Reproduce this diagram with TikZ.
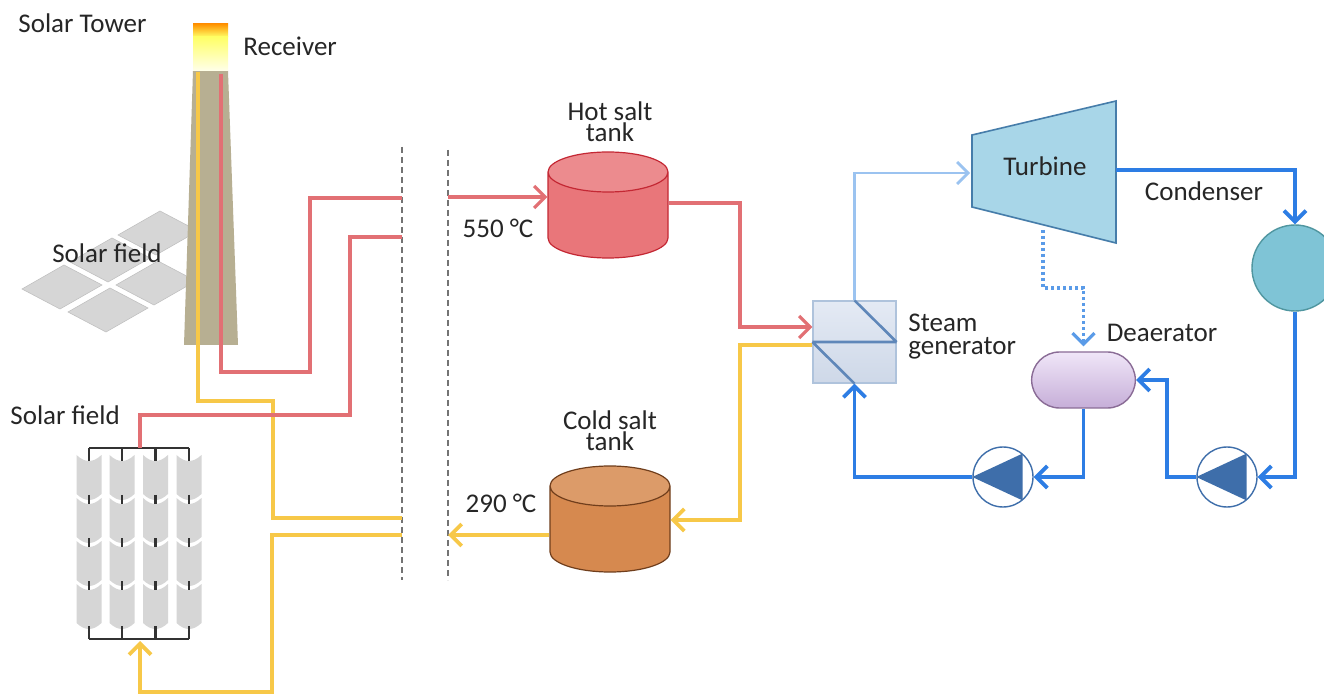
\documentclass[tikz,border=0pt]{standalone}
\usepackage{fontspec}
\setmainfont{Carlito}
\usepackage{tikz}
\usetikzlibrary{shapes.geometric, shapes.misc, arrows.meta}

\definecolor{saltred}{RGB}{226,112,116}
\definecolor{hotfill}{RGB}{233,118,122}
\definecolor{hotdraw}{RGB}{196,40,52}
\definecolor{coldfill}{RGB}{214,137,79}
\definecolor{colddraw}{RGB}{112,62,28}
\definecolor{saltyellow}{RGB}{247,200,72}
\definecolor{water}{RGB}{45,125,228}
\definecolor{steam}{RGB}{155,195,240}
\definecolor{bleed}{RGB}{90,155,232}
\definecolor{towerfill}{RGB}{183,175,146}
\definecolor{panel}{RGB}{214,214,214}
\definecolor{turbfill}{RGB}{168,214,232}
\definecolor{turbdraw}{RGB}{70,125,170}
\definecolor{condfill}{RGB}{127,196,214}
\definecolor{conddraw}{RGB}{80,150,160}
\definecolor{pumpfill}{RGB}{62,110,170}
\definecolor{sgline}{RGB}{95,135,185}
\definecolor{sgtop}{RGB}{228,234,244}
\definecolor{sgbot}{RGB}{206,216,232}
\definecolor{deatop}{RGB}{240,230,248}
\definecolor{deabot}{RGB}{198,174,216}
\definecolor{deadraw}{RGB}{138,108,150}

\tikzstyle{txt} = [text=black!85, font=\fontsize{13.5}{10.5}\selectfont, inner sep=0pt, align=center]
\tikzstyle{redpipe} = [draw=saltred, line width=1.6pt]
\tikzstyle{yellowpipe} = [draw=saltyellow, line width=1.9pt]
\tikzstyle{waterpipe} = [draw=water, line width=1.9pt]
\tikzstyle{steampipe} = [draw=steam, line width=1.4pt]
\tikzstyle{arrow} = [-{Straight Barb[length=5.5pt,width=11pt]}]
\tikzstyle{cutline} = [draw=black!55, line width=0.9pt, dash pattern=on 3pt off 2pt]
\tikzstyle{tank} = [cylinder, shape border rotate=90, aspect=3, minimum width=60pt, minimum height=53pt, cylinder uses custom fill, line width=0.6pt, anchor=shape center]
\tikzstyle{pump} = [circle, draw=pumpfill, line width=0.7pt, fill=white, minimum size=30pt, inner sep=0pt]
\tikzstyle{tile} = [fill=panel, draw=panel!90!black, line width=0.3pt]
\tikzstyle{manifold} = [draw=black!80, line width=1.2pt]

\begin{document}
\begin{tikzpicture}[x=0.5pt, y=-0.5pt]
		\useasboundingbox (0,0) rectangle (1324,695);
		\fill[white] (0,0) rectangle (1324,695);

		% heliostat field around the tower
		\foreach \px/\py in {22/289,70/262,118/235,68/312,116/285}
			\filldraw[tile] (\px,\py) -- ++(42,-24) -- ++(38,20) -- ++(-42,24) -- cycle;
		\node (fieldA) [txt] at (107,253) {Solar field};

		% tower and receiver
		\fill[towerfill] (193,71) -- (228,71) -- (238,345) -- (184,345) -- cycle;
		\shade[top color=orange!85!yellow, bottom color=yellow!60] (193,24) rectangle (228,37);
		\shade[top color=yellow!60, bottom color=yellow!8] (193,37) rectangle (228,71);
		\node (tower) [txt, anchor=west] at (18,23) {Solar Tower};
		\node (rcv) [txt, anchor=west] at (243,46) {Receiver};
		\coordinate (towerY) at (198,72);
		\coordinate (towerR) at (221,74);

		% parabolic trough field
		\foreach \cx in {89,122,155.5,189}
			\foreach \ty in {455,498,541,584}
				\fill[panel] (\cx-12.5,\ty) .. controls (\cx-4,\ty+8) and (\cx+4,\ty+8) .. (\cx+12.5,\ty) -- (\cx+12.5,\ty+39) .. controls (\cx+4,\ty+47) and (\cx-4,\ty+47) .. (\cx-12.5,\ty+39) -- cycle;
		\foreach \cx in {89,122,155.5,189} {
			\draw[manifold] (\cx,448) -- (\cx,461);
			\draw[manifold] (\cx,639) -- (\cx,626);
			\foreach \ty in {498,541,584}
				\draw[manifold] (\cx,\ty-3) -- (\cx,\ty+6);
		}
		\draw[manifold] (89,448) -- (189,448);
		\draw[manifold] (89,639) -- (189,639);
		\coordinate (fieldTop) at (140,448);
		\coordinate (fieldBot) at (140,641);
		\node (fieldB) [txt, anchor=west] at (10,415) {Solar field};

		% battery limits
		\draw[cutline] (402,147) -- (402,580);
		\draw[cutline] (448,150) -- (448,580);
		\coordinate (pL1) at (402,198);
		\coordinate (pL2) at (402,237);
		\coordinate (pL3) at (402,518);
		\coordinate (pL4) at (402,535);
		\coordinate (pR1) at (448,197);
		\coordinate (pR2) at (448,535);

		% salt loops of the collectors
		\draw[yellowpipe] (towerY) |- (273,401) |- (pL3);
		\draw[redpipe] (towerR) |- (310,372) |- (pL1);
		\draw[yellowpipe, arrow] (pL4) -| (272,692) -| (fieldBot);
		\draw[redpipe] (fieldTop) |- (350,415) |- (pL2);

		% storage
		\node (hot) [tank, draw=hotdraw, cylinder body fill=hotfill, cylinder end fill=hotfill!85!white] at (608,205) {};
		\node (cold) [tank, draw=colddraw, cylinder body fill=coldfill, cylinder end fill=coldfill!85!white] at (610,519) {};
		\path (hot.shape center -| hot.east) ++(0,-2) coordinate (hotOut);
		\path (cold.shape center -| cold.east) ++(0,1) coordinate (coldIn);
		\path (cold.shape center -| cold.west) ++(0,16) coordinate (coldOut);
		\node (hotlbl) [txt] at (610,122) {Hot salt\\tank};
		\node (coldlbl) [txt] at (610,431) {Cold salt\\tank};
		\node (thot) [txt] at (498,228) {550 °C};
		\node (tcold) [txt] at (501,503) {290 °C};

		% steam generator
		\node (sg) [draw=sgline!50, line width=0.6pt, top color=sgtop, bottom color=sgbot, minimum width=41.5pt, minimum height=41pt] at (854.5,342) {};
		\draw[draw=sgline, line width=1.3pt] (sg.north) -- (sg.east) (sg.west) -- (sg.east) (sg.west) -- (sg.south);
		\node (sglbl) [txt, anchor=west, align=left, font=\fontsize{13.5}{11.5}\selectfont] at (908,337) {Steam\\generator};

		\draw[redpipe, arrow] (pR1) -- (pR1 -| hot.west);
		\draw[redpipe, arrow] (hotOut) -| (740,327) -- ([yshift=7.5pt]sg.west);
		\draw[yellowpipe, arrow] ([yshift=-1.5pt]sg.west) -- (740,345) |- (coldIn);
		\draw[yellowpipe, arrow] (coldOut) -- (pR2);

		% power block
		\filldraw[fill=turbfill, draw=turbdraw, line width=0.8pt] (972,135) -- (1116,101) -- (1116,243) -- (972,207) -- cycle;
		\node (turb) [txt] at (1045,166) {Turbine};
		\coordinate (turbIn) at (970,173);
		\coordinate (turbOut) at (1116,170);
		\coordinate (turbBot) at (1043,230);
		\node (cond) [circle, fill=condfill, draw=conddraw, line width=0.7pt, minimum size=43pt] at (1295,268) {};
		\node (condlbl) [txt] at (1204,191) {Condenser};
		\node (dea) [rounded rectangle, draw=deadraw, line width=0.7pt, top color=deatop, bottom color=deabot, minimum width=58.5pt, minimum height=28pt] at (1083.5,380) {};
		\node (dealbl) [txt] at (1162,333) {Deaerator};
		\node (pumpA) [pump] at (1003,477) {};
		\node (pumpB) [pump] at (1227,477) {};
		\fill[pumpfill] (pumpA.west) -- (pumpA.50) -- (pumpA.-50) -- cycle;
		\fill[pumpfill] (pumpB.west) -- (pumpB.50) -- (pumpB.-50) -- cycle;

		\draw[steampipe, arrow] (sg.north) |- (turbIn);
		\draw[waterpipe, arrow] (turbOut) -| (cond.north);
		\draw[waterpipe, arrow] (cond.south) |- (pumpB.east);
		\draw[waterpipe, arrow] (pumpB.west) -- (1167,477) |- (dea.east);
		\draw[waterpipe, arrow] (dea.south) |- (pumpA.east);
		\draw[waterpipe, arrow] (pumpA.west) -| (sg.south);
		\draw[draw=bleed, line width=1.6pt, dash pattern=on 1.5pt off 1.5pt, arrow] (turbBot) -- (1043,288) -| ([yshift=2.5pt]dea.north);
	\end{tikzpicture}
\end{document}
